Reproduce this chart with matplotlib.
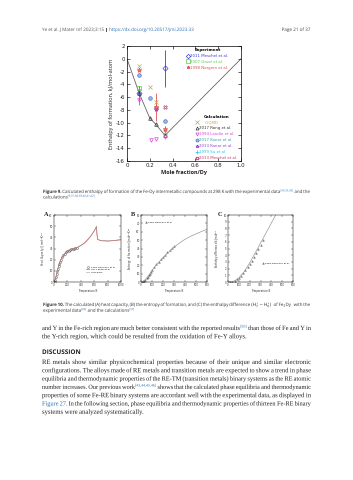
import matplotlib
matplotlib.use("Agg")
import matplotlib.pyplot as plt
import matplotlib.patheffects as pe
from matplotlib.lines import Line2D

W, H = 353, 480
LINK = "#2a6fb5"
INK = "#231f20"
SANS = ["Open Sans", "DejaVu Sans"]
SERIF = ["Liberation Serif", "DejaVu Serif"]

# ---- Figure 9 data: enthalpy of formation (kJ/mol-atom) vs mole fraction Dy
meschel11_x = [0.105, 0.333]
meschel11_y = [-5.3, -1.5]
meschel11_err = [1.1, 2.9]
gozzi07_x = [0.105]
gozzi07_y = [-4.6]
norgren98_x = [0.105, 0.25, 0.333]
norgren98_y = [-1.8, -7.6, -11.0]
norgren98_err = [0.0, 2.2, 0.4]
oqmd_x = [0.105, 0.2, 0.25, 0.333]
oqmd_y = [-1.2, -4.4, -6.8, -11.4]
rong17_x = [0.0, 0.105, 0.2, 0.25, 0.333, 1.0]
rong17_y = [0.0, -5.3, -9.3, -10.2, -12.0, 0.0]
landin94_x = [0.105, 0.21, 0.25, 0.333]
landin94_y = [-6.5, -12.7, -12.6, -12.3]
landin94_err = [0.7, 0.0, 0.0, 0.0]
konar17_x = [0.105, 0.2, 0.333]
konar17_y = [-2.6, -6.1, -9.8]
konar13_x = [0.25]
konar13_y = [-7.8]
su99_x = [0.105]
su99_y = [-4.8]
meschel13_x = [0.25, 0.333]
meschel13_y = [-7.7, -7.6]

# ---- Figure 10 data for Fe2Dy
cp_T = [0, 20, 40, 60, 80, 100, 150, 200, 250, 300, 350, 400, 450, 500, 550, 600,
        620, 635, 640, 650, 680, 700, 800, 900, 1000]
cp_this = [0, 2, 7, 12, 16, 19.5, 24.5, 27.5, 29, 30, 30.8, 32.5, 34.5, 37.5, 41,
           45.5, 47.8, 50, 44, 38.5, 37.6, 37.2, 36.8, 37.3, 38]
cp_rong = [0, 2.2, 7.4, 12.6, 16.6, 20, 25, 28, 29.4, 30.3, 31.1, 32.8, 34.8, 37.8,
           41.3, 45.8, 48.1, 49.6, 43.5, 38.2, 37.4, 37.0, 36.6, 37.1, 37.8]
cp_exp_T = [10, 20, 30, 40, 50, 60, 70, 80, 90, 100, 120, 140, 160, 180, 200, 220,
            240, 260, 280, 300, 320, 340]
cp_exp = [0.4, 2, 4.5, 7, 9.5, 12, 14, 16, 17.8, 19.5, 22, 24, 25.5, 26.8, 27.6,
          28.2, 28.8, 29.3, 29.6, 30, 30.3, 30.6]

s_T = [0, 25, 50, 75, 100, 150, 200, 250, 300, 350, 400, 450, 500, 550, 600]
s_this = [0, 1, 4.5, 9, 14, 22, 29, 35.5, 41.5, 46.5, 51, 54.5, 57.5, 60.3, 63]
s_exp_T = [10, 20, 30, 40, 50, 60, 70, 80, 90, 100, 120, 140, 160, 180, 200, 220,
           240, 260, 280, 300]
s_exp = [0.1, 0.6, 1.5, 2.8, 4.4, 6.2, 8.0, 10.0, 12.0, 13.8, 17.5, 21, 24.2, 27.2,
         30.0, 32.8, 35.3, 37.8, 40.2, 42.5]

h_T = [0, 25, 50, 75, 100, 150, 200, 250, 300, 350, 400, 440]
h_this = [0, 0.02, 0.12, 0.32, 0.62, 1.55, 2.85, 4.3, 5.8, 7.3, 8.8, 10.0]
h_exp_T = [20, 40, 60, 80, 100, 120, 140, 160, 180, 200, 220, 240, 260, 280, 300, 320]
h_exp = [0.01, 0.07, 0.2, 0.4, 0.64, 0.95, 1.32, 1.73, 2.18, 2.68, 3.2, 3.75, 4.33,
         4.92, 5.55, 6.2]

header = "Ye et al. J Mater Inf 2023;3:15 | @https://dx.doi.org/10.20517/jmi.2023.33"
header_right = "Page 21 of 37"

cap9 = [
    "*Figure *9. Calculated enthalpy of formation of the Fe-Dy intermetallic compounds at 298 K "
    "with the experimental data^[34,35,36] and the",
    "calculations^[9,37,38,39,40,41,42]",
]
cap10 = [
    "*Figure *10. The calculated (A) heat capacity, (B) the entropy of formation, and (C) the "
    "enthalpy difference $(H^{\\circ}_{T}-H^{\\circ}_{0})$ of Fe$_2$Dy with the",
    "experimental data^[83] and the calculations^[37]",
]
body1 = [
    "and Y in the Fe-rich region are much better consistent with the reported results^[83] "
    "than those of Fe and Y in",
    "the Y-rich region, which could be resulted from the oxidation of Fe-Y alloys.",
]
body2 = [
    "RE metals show similar physicochemical properties because of their unique and similar electronic",
    "configurations. The alloys made of RE metals and transition metals are expected to show a trend in phase",
    "equilibria and thermodynamic properties of the RE-TM (transition metals) binary systems as the RE atomic",
    "number increases. Our previous work^[43,44,45,46] shows that the calculated phase equilibria and thermodynamic",
    "properties of some Fe-RE binary systems are accordant well with the experimental data, as displayed in",
    "@Figure @27. In the following section, phase equilibria and thermodynamic properties of thirteen Fe-RE binary",
    "systems were analyzed systematically.",
]

fig = plt.figure(figsize=(W / 100, H / 100), dpi=100)
renderer = fig.canvas.get_renderer()
SPACE = 0.24
PATH = [pe.Normal()]  # text drawn as paths keeps glyph widths equal to the measured ones


def parse_word(word):
    color, weight = INK, "normal"
    if word.startswith("@"):
        color, word = LINK, word[1:]
    if word.startswith("*"):
        weight, word = "bold", word[1:]
    if "^[" in word:
        main, sup = word.split("^[", 1)
        return [(main, color, weight, False), ("[" + sup, LINK, "normal", True)]
    return [(word, color, weight, False)]


def make_words(line, size, family, base_color=INK):
    placed = []
    for word in line.split(" "):
        wt, ww = [], 0
        for text, color, weight, sup in parse_word(word):
            if color == INK:
                color = base_color
            fs = size * 0.62 if sup else size
            t = fig.text(0, 0, text, fontsize=fs, family=family, color=color,
                         weight=weight, va="baseline", ha="left", path_effects=PATH)
            w = t.get_window_extent(renderer).width if text else 0
            wt.append((t, ww, sup))
            ww += w
        placed.append((wt, ww))
    return placed


def natural_size(line, family, width, space=SPACE):
    # font size at which this line, with normal spacing, fills the width
    placed = make_words(line, 10, family)
    nat = sum(ww for _, ww in placed) + (len(placed) - 1) * space * 10 * 100 / 72
    for wt, _ in placed:
        for t, _, _ in wt:
            t.remove()
    return 10 * width / nat


def put_line(line, y, x0, x1, size, family, justify=True, base_color=INK):
    placed = make_words(line, size, family, base_color)
    total = sum(ww for _, ww in placed)
    space = size * 100 / 72 * SPACE
    if justify and len(placed) > 1:
        space = (x1 - x0 - total) / (len(placed) - 1)
    x = x0
    for wt, ww in placed:
        for t, off, sup in wt:
            dy = size * 100 / 72 * 0.38 if sup else 0
            t.set_position(((x + off) / W, 1 - (y - dy) / H))
        x += ww + space


def put_block(lines, y0, step, x0, x1, size, family, base_color=INK):
    for i, line in enumerate(lines):
        justify = i < len(lines) - 1
        s = size
        if justify:
            s = min(size, natural_size(line, family, x1 - x0, space=0.2))
        put_line(line, y0 + i * step, x0, x1, s, family, justify=justify,
                 base_color=base_color)


# ---- header
hs = natural_size(header, SANS, 151)
put_line(header, 31, 42, 193, hs, SANS, justify=False, base_color="#555555")
fig.text(311 / W, 1 - 31 / H, header_right, fontsize=hs, family=SANS,
         color="#444444", ha="right", va="baseline", path_effects=PATH)

# ---- Figure 9
ax = fig.add_axes([127 / W, 1 - 161 / H, 114 / W, 115 / H])
ax.plot(rong17_x, rong17_y, color="#666666", lw=0.6, zorder=1)
ms, mew = 2.6, 0.5
ax.errorbar(meschel11_x, meschel11_y, yerr=meschel11_err, fmt="D", mfc="none",
            color="#3b3bd6", ms=ms, mew=mew, elinewidth=0.6, capsize=0)
ax.plot(gozzi07_x, gozzi07_y, "s", mfc="none", color="#55c84a", ms=ms, mew=mew)
ax.errorbar(norgren98_x, norgren98_y, yerr=norgren98_err, fmt="*", color="#e0504e",
            mfc="#f08080", ms=ms + 0.8, mew=mew, elinewidth=0.6, capsize=0)
ax.plot(oqmd_x, oqmd_y, "x", color="#c4a652", ms=ms + 0.4, mew=mew)
ax.plot(rong17_x[1:-1], rong17_y[1:-1], "^", mfc="none", color="#333333", ms=ms, mew=mew)
ax.errorbar(landin94_x, landin94_y, yerr=landin94_err, fmt="v", mfc="none",
            color="#d84ad8", ms=ms, mew=mew, elinewidth=0.6, capsize=0)
ax.plot(konar17_x, konar17_y, "o", mfc="#9fb8e8", color="#4a78c8", ms=ms, mew=mew)
ax.plot(konar13_x, konar13_y, "*", mfc="none", color="#8a46c8", ms=ms + 0.8, mew=mew)
ax.plot(su99_x, su99_y, "+", color="#24c6ee", ms=ms + 0.4, mew=mew)
ax.plot(meschel13_x, meschel13_y, "X", mfc="none", color="#b8406a", ms=ms, mew=mew)

ax.set_xlim(0, 1)
ax.set_ylim(-16, 2)
ax.set_xticks([0, 0.2, 0.4, 0.6, 0.8, 1.0])
ax.set_xticklabels(["0", "0.2", "0.4", "0.6", "0.8", "1.0"])
ax.set_yticks(range(-16, 3, 2))
ax.set_yticklabels([str(v) for v in range(-16, 3, 2)])
ax.tick_params(direction="in", top=True, right=True, length=2, width=0.5,
               labelsize=3.9, pad=1.5, colors=INK)
for sp in ax.spines.values():
    sp.set_linewidth(0.5)
ax.set_xlabel("Mole fraction/Dy", fontsize=4.0, family=SANS, weight="bold",
              labelpad=1.5, color=INK)
ax.set_ylabel("Enthalpy of formation, kJ/mol-atom", fontsize=4.0, family=SANS,
              labelpad=1.5, color=INK)


def handle(marker, color, fill="none"):
    return Line2D([], [], ls="none", marker=marker, color=color, mfc=fill, ms=2.2, mew=0.5)


exp_items = [
    (handle("D", "#3b3bd6"), "2011 Meschel et al.", "#3b3bd6"),
    (handle("s", "#55c84a"), "2007 Gozzi et al.", "#55c84a"),
    (handle("*", "#e0504e", "#f08080"), "1998 Norgren et al.", "#e0504e"),
]
calc_items = [
    (handle("x", "#c4a652"), "     OQMD", "#c4a652"),
    (handle("^", "#333333"), "2017 Rong et al.", "#333333"),
    (handle("v", "#d84ad8"), "1994 Landin et al.", "#d84ad8"),
    (handle("o", "#4a78c8", "#9fb8e8"), "2017 Konar et al.", "#3a9aa8"),
    (handle("*", "#8a46c8"), "2013 Konar et al.", "#8a46c8"),
    (handle("+", "#24c6ee"), "1999 Su et al.", "#24c6ee"),
    (handle("X", "#b8406a"), "2013 Meschel et al.", "#b8406a"),
]
leg_kw = dict(frameon=False, fontsize=2.8, handlelength=0.6, handletextpad=0.1,
              labelspacing=0.5, borderpad=0.1, borderaxespad=0.1)
leg1 = ax.legend([h for h, _, _ in exp_items], [l for _, l, _ in exp_items],
                 labelcolor=[c for _, _, c in exp_items], loc="upper left",
                 bbox_to_anchor=(0.52, 0.99), title="Experiment",
                 title_fontproperties={"size": 2.9, "weight": "bold"}, **leg_kw)
ax.add_artist(leg1)
ax.legend([h for h, _, _ in calc_items], [l for _, l, _ in calc_items],
          labelcolor=[c for _, _, c in calc_items], loc="lower left",
          bbox_to_anchor=(0.6, 0.0), title="Calculation",
          title_fontproperties={"size": 2.9, "weight": "bold"}, **leg_kw)

cs = min(natural_size(cap9[0], SANS, 267), natural_size(cap10[0], SANS, 267)) * 1.03
put_block(cap9, 193, 5.5, 43, 310, cs, SANS, base_color="#333333")


# ---- Figure 10
def small_axes(left, width, xmax, xstep, ymax, ystep, ylabel, letter):
    a = fig.add_axes([left / W, 1 - 282 / H, width / W, 67 / H])
    a.set_xlim(0, xmax)
    a.set_ylim(0, ymax)
    a.set_xticks(range(0, xmax + 1, xstep))
    a.set_yticks([v for v in range(0, ymax + 1, ystep)])
    a.tick_params(direction="in", top=True, right=True, length=1.2, width=0.3,
                  labelsize=1.9, pad=1, colors="#333333")
    for sp in a.spines.values():
        sp.set_linewidth(0.35)
    a.set_xlabel("Temperature/K", fontsize=1.9, labelpad=1, color="#333333")
    a.set_ylabel(ylabel, fontsize=1.9, labelpad=1, color="#333333")
    fig.text((left - 10) / W, 1 - 216 / H, letter, fontsize=4.6, family=SERIF,
             weight="bold", color=INK, va="baseline")
    return a


axA = small_axes(54, 67, 1000, 200, 60, 10, "Heat Capacity/J mol$^{-1}$K$^{-1}$", "A")
axA.plot(cp_exp_T, cp_exp, "s", mfc="none", color="#333333", ms=1.1, mew=0.3,
         label="1983 Germano et al.")
axA.plot(cp_T, cp_rong, color="#e05050", lw=0.5, label="2017 Rong et al.")
axA.plot(cp_T, cp_this, color="#999999", lw=0.4, label="This work")
axA.legend(loc="lower right", bbox_to_anchor=(0.95, 0.12), frameon=False,
           fontsize=1.7, handlelength=1.6, labelspacing=0.3, borderpad=0.1)

axB = small_axes(141, 66, 600, 100, 80, 10, "Entropy of formation/J mol$^{-1}$K$^{-1}$", "B")
axB.plot(s_exp_T, s_exp, "^", mfc="none", color="#333333", ms=1.2, mew=0.3,
         label="1983 Germano et al.")
axB.plot(s_T, s_this, color="#999999", lw=0.5)
axB.legend(loc="upper left", bbox_to_anchor=(0.05, 0.93), frameon=False,
           fontsize=1.7, handlelength=0.5, handletextpad=0.3, borderpad=0.1)

axC = small_axes(228, 65, 600, 100, 10, 1, "Enthalpy difference/kJ mol$^{-1}$", "C")
axC.plot(h_exp_T, h_exp, "^", mfc="none", color="#333333", ms=1.2, mew=0.3,
         label="1983 Germano et al.")
axC.plot(h_T, h_this, color="#999999", lw=0.5)
axC.legend(loc="center right", bbox_to_anchor=(0.97, 0.28), frameon=False,
           fontsize=1.7, handlelength=0.5, handletextpad=0.3, borderpad=0.1)

put_block(cap10, 306, 5.8, 43, 310, cs, SANS, base_color="#333333")

# ---- body text
BODY = 4.8
put_block(body1, 330, 8.3, 42, 311, BODY, SERIF)
fig.text(42 / W, 1 - 354 / H, "DISCUSSION", fontsize=4.6, family=SANS,
         weight="bold", color=INK, va="baseline", path_effects=PATH)
put_block(body2, 364, 8.3, 42, 311, BODY, SERIF)

fig.savefig("out.png", dpi=100, facecolor="white")
